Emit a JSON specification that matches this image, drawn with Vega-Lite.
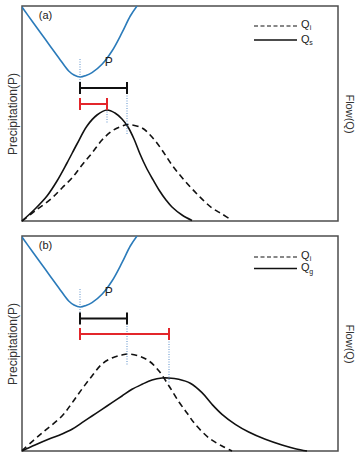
{
  "$schema": "https://vega.github.io/schema/vega-lite/v6.json",
  "background": "white",
  "padding": 5,
  "spacing": 10,
  "config": {
    "view": {"stroke": "#4d4d4d", "strokeWidth": 1.5},
    "axis": {"domain": false, "ticks": false, "labels": false, "grid": false, "titleFont": "Liberation Sans", "titleFontWeight": "normal", "titleColor": "#333", "titleFontSize": 11},
    "text": {"font": "Liberation Sans", "color": "#222"}
  },
  "datasets": {
    "P": [
      {"x": 0, "y": 214}, {"x": 10, "y": 200}, {"x": 23.3, "y": 181.7}, {"x": 36.7, "y": 163.3},
      {"x": 46.7, "y": 150}, {"x": 52, "y": 146}, {"x": 58.3, "y": 144}, {"x": 64, "y": 145.5}, {"x": 70, "y": 148.3},
      {"x": 80, "y": 156.7}, {"x": 90, "y": 170}, {"x": 100, "y": 188.3}, {"x": 108.3, "y": 205},
      {"x": 115, "y": 215}
    ],
    "Qs": [
      {"x": 0, "y": 0}, {"x": 13, "y": 12}, {"x": 25, "y": 25}, {"x": 35, "y": 40}, {"x": 45, "y": 58},
      {"x": 55, "y": 77}, {"x": 65, "y": 95}, {"x": 75, "y": 106}, {"x": 85, "y": 111}, {"x": 93, "y": 108},
      {"x": 100, "y": 102}, {"x": 106, "y": 94}, {"x": 112, "y": 82}, {"x": 118, "y": 67}, {"x": 124, "y": 54},
      {"x": 130, "y": 43}, {"x": 137, "y": 31}, {"x": 144, "y": 21}, {"x": 150, "y": 14}, {"x": 160, "y": 6},
      {"x": 170, "y": 0.5}
    ],
    "Qi_a": [
      {"x": 0, "y": 0}, {"x": 13, "y": 10}, {"x": 30, "y": 23}, {"x": 40, "y": 33}, {"x": 50, "y": 43},
      {"x": 60, "y": 56}, {"x": 70, "y": 68}, {"x": 80, "y": 81}, {"x": 90, "y": 90}, {"x": 100, "y": 95},
      {"x": 106, "y": 96.5}, {"x": 120, "y": 93}, {"x": 130, "y": 84}, {"x": 140, "y": 71}, {"x": 150, "y": 56},
      {"x": 163, "y": 40}, {"x": 177, "y": 25}, {"x": 190, "y": 13}, {"x": 200, "y": 7}, {"x": 210, "y": 0.5}
    ],
    "Qi_b": [
      {"x": 0, "y": 0.5}, {"x": 20, "y": 18}, {"x": 40, "y": 35}, {"x": 50, "y": 48}, {"x": 60, "y": 62},
      {"x": 70, "y": 75}, {"x": 80, "y": 87}, {"x": 90, "y": 93}, {"x": 100, "y": 96}, {"x": 107, "y": 97},
      {"x": 117, "y": 95}, {"x": 127, "y": 90}, {"x": 137, "y": 80}, {"x": 147, "y": 65}, {"x": 157, "y": 49},
      {"x": 165, "y": 38}, {"x": 173, "y": 27}, {"x": 187, "y": 13}, {"x": 200, "y": 5}, {"x": 210, "y": 0}
    ],
    "Qg": [
      {"x": 0, "y": 0}, {"x": 13, "y": 6}, {"x": 27, "y": 12}, {"x": 40, "y": 17}, {"x": 50, "y": 21.7},
      {"x": 60, "y": 28.3}, {"x": 70, "y": 35}, {"x": 80, "y": 41.7}, {"x": 90, "y": 48.3}, {"x": 100, "y": 55},
      {"x": 110, "y": 61.7}, {"x": 120, "y": 66.7}, {"x": 130, "y": 71}, {"x": 140, "y": 73}, {"x": 146.7, "y": 73},
      {"x": 156.7, "y": 71.7}, {"x": 168.3, "y": 67.7}, {"x": 180, "y": 58.3}, {"x": 190, "y": 46.7},
      {"x": 200, "y": 36.7}, {"x": 213.3, "y": 26.7}, {"x": 226.7, "y": 19}, {"x": 243.3, "y": 11.7},
      {"x": 260, "y": 6}, {"x": 273.3, "y": 2.3}, {"x": 285, "y": 0}
    ],
    "lags_a": [
      {"lag": "P to Qi", "x": 58, "x2": 105, "y": 133},
      {"lag": "P to Qs", "x": 58, "x2": 85, "y": 117}
    ],
    "lags_b": [
      {"lag": "P to Qi", "x": 58, "x2": 105, "y": 132.5},
      {"lag": "P to Qg", "x": 58, "x2": 147, "y": 117}
    ],
    "guides_a": [
      {"x": 58, "y": 162, "y2": 138},
      {"x": 85, "y": 117, "y2": 97},
      {"x": 105, "y": 133, "y2": 87}
    ],
    "guides_b": [
      {"x": 58, "y": 162, "y2": 138},
      {"x": 105, "y": 132.5, "y2": 85},
      {"x": 147, "y": 117, "y2": 68}
    ]
  },
  "vconcat": [
    {
      "width": 316,
      "height": 215,
      "resolve": {"axis": {"y": "independent"}},
      "layer": [
        {
          "data": {"name": "P"},
          "mark": {"type": "line", "color": "#2b7bba", "strokeWidth": 1.6, "interpolate": "catmull-rom", "clip": true},
          "encoding": {
            "x": {"field": "x", "type": "quantitative", "scale": {"domain": [0, 316], "nice": false}, "axis": null},
            "y": {"field": "y", "type": "quantitative", "scale": {"domain": [0, 215], "nice": false}, "axis": {"orient": "left", "title": "Precipitation(P)", "titleFontSize": 12, "titlePadding": 3}}
          }
        },
        {
          "data": {"name": "Qi_a"},
          "mark": {"type": "line", "color": "#111", "strokeWidth": 1.6, "strokeDash": [6, 4], "interpolate": "catmull-rom"},
          "encoding": {
            "x": {"field": "x", "type": "quantitative", "scale": {"domain": [0, 316], "nice": false}, "axis": null},
            "y": {"field": "y", "type": "quantitative", "scale": {"domain": [0, 215], "nice": false}, "axis": {"orient": "right", "title": "Flow(Q)", "titlePadding": 5}}
          }
        },
        {
          "data": {"name": "Qs"},
          "mark": {"type": "line", "color": "#111", "strokeWidth": 1.6, "interpolate": "catmull-rom"},
          "encoding": {
            "x": {"field": "x", "type": "quantitative", "scale": {"domain": [0, 316], "nice": false}, "axis": null},
            "y": {"field": "y", "type": "quantitative", "scale": {"domain": [0, 215], "nice": false}, "axis": null}
          }
        },
        {
          "data": {"name": "guides_a"},
          "mark": {"type": "rule", "color": "#5b8fc9", "strokeWidth": 1, "strokeDash": [1, 1.5]},
          "encoding": {
            "x": {"field": "x", "type": "quantitative", "scale": {"domain": [0, 316], "nice": false}, "axis": null},
            "y": {"field": "y", "type": "quantitative", "scale": {"domain": [0, 215], "nice": false}, "axis": null},
            "y2": {"field": "y2"}
          }
        },
        {
          "data": {"name": "lags_a"},
          "mark": {"type": "rule", "strokeWidth": 2},
          "encoding": {
            "x": {"field": "x", "type": "quantitative", "scale": {"domain": [0, 316], "nice": false}, "axis": null},
            "x2": {"field": "x2"},
            "y": {"field": "y", "type": "quantitative", "scale": {"domain": [0, 215], "nice": false}, "axis": null},
            "color": {"field": "lag", "type": "nominal", "scale": {"domain": ["P to Qi", "P to Qs", "P to Qg"], "range": ["#111111", "#e3262b", "#e3262b"]}, "legend": null}
          }
        },
        {
          "data": {"name": "lags_a"},
          "mark": {"type": "tick", "orient": "vertical", "size": 12, "thickness": 2, "opacity": 1},
          "encoding": {
            "x": {"field": "x", "type": "quantitative", "scale": {"domain": [0, 316], "nice": false}, "axis": null},
            "y": {"field": "y", "type": "quantitative", "scale": {"domain": [0, 215], "nice": false}, "axis": null},
            "color": {"field": "lag", "type": "nominal", "scale": {"domain": ["P to Qi", "P to Qs", "P to Qg"], "range": ["#111111", "#e3262b", "#e3262b"]}, "legend": null}
          }
        },
        {
          "data": {"name": "lags_a"},
          "mark": {"type": "tick", "orient": "vertical", "size": 12, "thickness": 2, "opacity": 1},
          "encoding": {
            "x": {"field": "x2", "type": "quantitative", "scale": {"domain": [0, 316], "nice": false}, "axis": null},
            "y": {"field": "y", "type": "quantitative", "scale": {"domain": [0, 215], "nice": false}, "axis": null},
            "color": {"field": "lag", "type": "nominal", "scale": {"domain": ["P to Qi", "P to Qs", "P to Qg"], "range": ["#111111", "#e3262b", "#e3262b"]}, "legend": null}
          }
        },
        {
          "data": {"values": [{"x": 232, "x2": 275, "y": 195}]},
          "mark": {"type": "rule", "color": "#111", "strokeWidth": 1.2, "strokeDash": [4, 2.5]},
          "encoding": {
            "x": {"field": "x", "type": "quantitative", "scale": {"domain": [0, 316], "nice": false}, "axis": null},
            "x2": {"field": "x2"},
            "y": {"field": "y", "type": "quantitative", "scale": {"domain": [0, 215], "nice": false}, "axis": null}
          }
        },
        {
          "data": {"values": [{"x": 232, "x2": 275, "y": 181}]},
          "mark": {"type": "rule", "color": "#111", "strokeWidth": 1.4},
          "encoding": {
            "x": {"field": "x", "type": "quantitative", "scale": {"domain": [0, 316], "nice": false}, "axis": null},
            "x2": {"field": "x2"},
            "y": {"field": "y", "type": "quantitative", "scale": {"domain": [0, 215], "nice": false}, "axis": null}
          }
        },
        {
          "data": {"values": [{"x": 283.3, "y": 196, "text": "Q"}, {"x": 283.3, "y": 181.3, "text": "Q"}, {"x": 23.5, "y": 205, "text": "(a)"}]},
          "mark": {"type": "text", "fontSize": 11, "align": "center", "baseline": "middle"},
          "encoding": {
            "x": {"field": "x", "type": "quantitative", "scale": {"domain": [0, 316], "nice": false}, "axis": null},
            "y": {"field": "y", "type": "quantitative", "scale": {"domain": [0, 215], "nice": false}, "axis": null},
            "text": {"field": "text"}
          }
        },
        {
          "data": {"values": [{"x": 288.5, "y": 193.3, "text": "i"}, {"x": 289, "y": 177.7, "text": "s"}]},
          "mark": {"type": "text", "fontSize": 7, "align": "center", "baseline": "middle"},
          "encoding": {
            "x": {"field": "x", "type": "quantitative", "scale": {"domain": [0, 316], "nice": false}, "axis": null},
            "y": {"field": "y", "type": "quantitative", "scale": {"domain": [0, 215], "nice": false}, "axis": null},
            "text": {"field": "text"}
          }
        },
        {
          "data": {"values": [{"x": 86.7, "y": 159.5, "text": "P"}]},
          "mark": {"type": "text", "fontSize": 12, "align": "center", "baseline": "middle"},
          "encoding": {
            "x": {"field": "x", "type": "quantitative", "scale": {"domain": [0, 316], "nice": false}, "axis": null},
            "y": {"field": "y", "type": "quantitative", "scale": {"domain": [0, 215], "nice": false}, "axis": null},
            "text": {"field": "text"}
          }
        }
      ]
    },
    {
      "width": 316,
      "height": 215,
      "resolve": {"axis": {"y": "independent"}},
      "layer": [
        {
          "data": {"name": "P"},
          "mark": {"type": "line", "color": "#2b7bba", "strokeWidth": 1.6, "interpolate": "catmull-rom", "clip": true},
          "encoding": {
            "x": {"field": "x", "type": "quantitative", "scale": {"domain": [0, 316], "nice": false}, "axis": {"orient": "bottom", "title": "Time", "titlePadding": 4}},
            "y": {"field": "y", "type": "quantitative", "scale": {"domain": [0, 215], "nice": false}, "axis": {"orient": "left", "title": "Precipitation(P)", "titleFontSize": 12, "titlePadding": 3}}
          }
        },
        {
          "data": {"name": "Qi_b"},
          "mark": {"type": "line", "color": "#111", "strokeWidth": 1.6, "strokeDash": [6, 4], "interpolate": "catmull-rom"},
          "encoding": {
            "x": {"field": "x", "type": "quantitative", "scale": {"domain": [0, 316], "nice": false}, "axis": null},
            "y": {"field": "y", "type": "quantitative", "scale": {"domain": [0, 215], "nice": false}, "axis": {"orient": "right", "title": "Flow(Q)", "titlePadding": 5}}
          }
        },
        {
          "data": {"name": "Qg"},
          "mark": {"type": "line", "color": "#111", "strokeWidth": 1.6, "interpolate": "catmull-rom"},
          "encoding": {
            "x": {"field": "x", "type": "quantitative", "scale": {"domain": [0, 316], "nice": false}, "axis": null},
            "y": {"field": "y", "type": "quantitative", "scale": {"domain": [0, 215], "nice": false}, "axis": null}
          }
        },
        {
          "data": {"name": "guides_b"},
          "mark": {"type": "rule", "color": "#5b8fc9", "strokeWidth": 1, "strokeDash": [1, 1.5]},
          "encoding": {
            "x": {"field": "x", "type": "quantitative", "scale": {"domain": [0, 316], "nice": false}, "axis": null},
            "y": {"field": "y", "type": "quantitative", "scale": {"domain": [0, 215], "nice": false}, "axis": null},
            "y2": {"field": "y2"}
          }
        },
        {
          "data": {"name": "lags_b"},
          "mark": {"type": "rule", "strokeWidth": 2},
          "encoding": {
            "x": {"field": "x", "type": "quantitative", "scale": {"domain": [0, 316], "nice": false}, "axis": null},
            "x2": {"field": "x2"},
            "y": {"field": "y", "type": "quantitative", "scale": {"domain": [0, 215], "nice": false}, "axis": null},
            "color": {"field": "lag", "type": "nominal", "scale": {"domain": ["P to Qi", "P to Qs", "P to Qg"], "range": ["#111111", "#e3262b", "#e3262b"]}, "legend": null}
          }
        },
        {
          "data": {"name": "lags_b"},
          "mark": {"type": "tick", "orient": "vertical", "size": 12, "thickness": 2, "opacity": 1},
          "encoding": {
            "x": {"field": "x", "type": "quantitative", "scale": {"domain": [0, 316], "nice": false}, "axis": null},
            "y": {"field": "y", "type": "quantitative", "scale": {"domain": [0, 215], "nice": false}, "axis": null},
            "color": {"field": "lag", "type": "nominal", "scale": {"domain": ["P to Qi", "P to Qs", "P to Qg"], "range": ["#111111", "#e3262b", "#e3262b"]}, "legend": null}
          }
        },
        {
          "data": {"name": "lags_b"},
          "mark": {"type": "tick", "orient": "vertical", "size": 12, "thickness": 2, "opacity": 1},
          "encoding": {
            "x": {"field": "x2", "type": "quantitative", "scale": {"domain": [0, 316], "nice": false}, "axis": null},
            "y": {"field": "y", "type": "quantitative", "scale": {"domain": [0, 215], "nice": false}, "axis": null},
            "color": {"field": "lag", "type": "nominal", "scale": {"domain": ["P to Qi", "P to Qs", "P to Qg"], "range": ["#111111", "#e3262b", "#e3262b"]}, "legend": null}
          }
        },
        {
          "data": {"values": [{"x": 232, "x2": 275, "y": 194}]},
          "mark": {"type": "rule", "color": "#111", "strokeWidth": 1.2, "strokeDash": [4, 2.5]},
          "encoding": {
            "x": {"field": "x", "type": "quantitative", "scale": {"domain": [0, 316], "nice": false}, "axis": null},
            "x2": {"field": "x2"},
            "y": {"field": "y", "type": "quantitative", "scale": {"domain": [0, 215], "nice": false}, "axis": null}
          }
        },
        {
          "data": {"values": [{"x": 232, "x2": 275, "y": 182.5}]},
          "mark": {"type": "rule", "color": "#111", "strokeWidth": 1.4},
          "encoding": {
            "x": {"field": "x", "type": "quantitative", "scale": {"domain": [0, 316], "nice": false}, "axis": null},
            "x2": {"field": "x2"},
            "y": {"field": "y", "type": "quantitative", "scale": {"domain": [0, 215], "nice": false}, "axis": null}
          }
        },
        {
          "data": {"values": [{"x": 283.3, "y": 195, "text": "Q"}, {"x": 283.3, "y": 183.2, "text": "Q"}, {"x": 23.5, "y": 205, "text": "(b)"}]},
          "mark": {"type": "text", "fontSize": 11, "align": "center", "baseline": "middle"},
          "encoding": {
            "x": {"field": "x", "type": "quantitative", "scale": {"domain": [0, 316], "nice": false}, "axis": null},
            "y": {"field": "y", "type": "quantitative", "scale": {"domain": [0, 215], "nice": false}, "axis": null},
            "text": {"field": "text"}
          }
        },
        {
          "data": {"values": [{"x": 288.5, "y": 192, "text": "i"}, {"x": 289.3, "y": 179, "text": "g"}]},
          "mark": {"type": "text", "fontSize": 7, "align": "center", "baseline": "middle"},
          "encoding": {
            "x": {"field": "x", "type": "quantitative", "scale": {"domain": [0, 316], "nice": false}, "axis": null},
            "y": {"field": "y", "type": "quantitative", "scale": {"domain": [0, 215], "nice": false}, "axis": null},
            "text": {"field": "text"}
          }
        },
        {
          "data": {"values": [{"x": 86.7, "y": 159.5, "text": "P"}]},
          "mark": {"type": "text", "fontSize": 12, "align": "center", "baseline": "middle"},
          "encoding": {
            "x": {"field": "x", "type": "quantitative", "scale": {"domain": [0, 316], "nice": false}, "axis": null},
            "y": {"field": "y", "type": "quantitative", "scale": {"domain": [0, 215], "nice": false}, "axis": null},
            "text": {"field": "text"}
          }
        }
      ]
    }
  ]
}
